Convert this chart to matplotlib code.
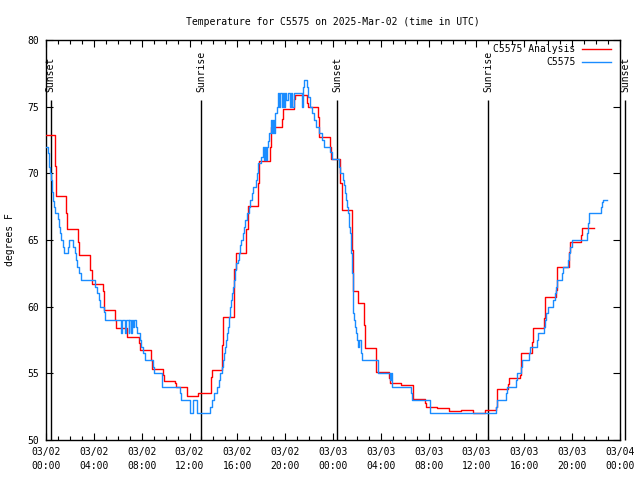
import matplotlib
matplotlib.use("Agg")
import matplotlib.pyplot as plt
from matplotlib.ticker import MultipleLocator

# ---- data (hours since 2025-03-02 00:00 UTC, degrees F) ----
analysis_t = [0.0, 0.72, 0.81, 1.70, 1.78, 2.70, 2.78, 3.71, 3.82, 4.74, 4.82, 5.74, 5.82,
              6.75, 7.75, 7.83, 8.75, 8.83, 9.76, 9.84, 10.76, 10.84, 11.78, 12.74,
              13.77, 13.85, 14.72, 14.83, 15.75, 15.85, 16.75, 16.86, 17.75, 17.84,
              18.76, 18.84, 19.76, 19.84, 20.77, 20.85, 21.80, 21.88, 22.77, 22.85,
              23.78, 23.86, 24.62, 24.73, 25.62, 25.70, 26.08, 26.60, 26.68, 27.62,
              28.66, 28.74, 29.69, 30.66, 31.67, 31.75, 32.67, 33.67, 34.70, 35.68,
              36.71, 37.60, 37.74, 38.66, 38.74, 39.66, 39.74, 40.67, 40.74, 41.67,
              41.75, 42.67, 42.75, 43.70, 43.78, 44.77, 44.84, 45.83]
analysis_v = [72.85, 70.55, 68.3, 67.05, 65.8, 64.88, 63.85, 62.75, 61.68, 61.2, 59.72, 59.0, 58.42,
              57.7, 57.25, 56.75, 56.0, 55.3, 54.88, 54.42, 54.25, 53.95, 53.3, 53.5,
              54.75, 55.25, 57.1, 59.2, 62.8, 64.0, 65.8, 67.55, 69.25, 70.9,
              72.0, 73.45, 74.1, 74.8, 75.6, 75.9, 75.25, 74.95, 74.25, 72.75,
              72.0, 71.05, 69.25, 67.25, 64.25, 61.2, 60.3, 58.6, 56.88, 55.13,
              54.63, 54.25, 54.1, 53.05, 52.8, 52.45, 52.38, 52.2, 52.25, 52.05,
              52.25, 52.5, 53.8, 54.2, 54.63, 54.88, 56.5, 57.38, 58.42, 59.13,
              60.7, 61.25, 62.95, 64.13, 64.83, 65.38, 65.88, 65.88]

obs_t = [0.0, 0.17, 0.25, 0.33, 0.44, 0.50, 0.61, 0.70, 0.78, 1.00, 1.09, 1.20, 1.28, 1.39, 1.48,
         1.84, 1.95, 2.28, 2.40, 2.48, 2.59, 2.79, 2.95, 4.12, 4.24, 4.43, 4.52, 4.85, 4.96,
         6.25, 6.33, 6.60, 6.67, 6.90, 6.95, 7.10, 7.15, 7.30, 7.40, 7.50,
         7.64, 7.86, 7.97, 8.14, 8.30, 8.92, 9.03, 9.67, 11.20, 11.26, 12.04, 12.32, 12.65,
         13.71, 13.88, 14.08, 14.27, 14.44, 14.55, 14.72, 14.77, 14.86, 14.94, 15.03, 15.11,
         15.19, 15.28, 15.39, 15.47, 15.58, 15.66, 15.75, 15.83, 15.92, 16.03, 16.11, 16.22,
         16.31, 16.45, 16.56, 16.67, 16.78, 16.98, 17.09, 17.23, 17.34, 17.56, 17.65, 17.76,
         17.98, 18.12, 18.20, 18.28, 18.36, 18.45, 18.54, 18.65, 18.82, 18.90, 18.98, 19.06,
         19.15, 19.29, 19.43, 19.50, 19.60, 19.70, 19.80, 19.92, 20.00, 20.10, 20.20, 20.40,
         20.50, 20.60, 20.70, 21.44, 21.50, 21.58, 21.83, 21.94, 22.10, 22.27, 22.41, 22.60,
         22.86, 23.08, 23.28, 23.75, 23.94, 24.50, 24.59, 24.81, 24.92, 25.00, 25.09, 25.17,
         25.23, 25.31, 25.37, 25.42, 25.48, 25.53, 25.59, 25.65, 25.70, 25.78, 25.87, 25.95,
         26.03, 26.12, 26.20, 26.30, 26.37, 26.45, 27.76, 28.77, 28.85, 28.93, 30.52, 30.58,
         32.11, 37.63, 37.69, 38.47, 38.53, 39.30, 39.39, 39.75, 39.83, 40.42, 40.50, 41.03,
         41.17, 41.67, 41.76, 41.84, 41.95, 42.43, 42.54, 42.67, 42.76, 43.12, 43.21, 43.68,
         43.74, 43.85, 43.99, 45.24, 45.30, 45.38, 46.41, 46.50, 46.61, 46.89]
obs_v = [72.0, 71.5, 70.5, 70.0, 69.5, 68.6, 67.9, 67.45, 67.0, 66.6, 66.0, 65.5, 65.0, 64.5, 64.0,
         64.5, 65.0, 64.5, 64.0, 63.5, 63.0, 62.5, 62.0, 61.5, 61.0, 60.5, 60.0, 59.6, 59.0,
         58.0, 59.0, 58.0, 59.0, 58.0, 59.0, 58.0, 59.0, 58.5, 59.0, 58.5,
         58.0, 57.5, 57.0, 56.5, 56.0, 55.5, 55.0, 54.0, 53.5, 53.0, 52.0, 53.0, 52.0,
         52.5, 53.0, 53.5, 54.0, 54.5, 55.0, 55.5, 56.0, 56.5, 57.0, 57.5, 58.0,
         58.5, 59.25, 60.0, 60.5, 61.0, 61.5, 62.0, 62.75, 63.25, 63.5, 64.0, 64.6,
         65.0, 65.5, 66.0, 66.5, 67.0, 67.5, 68.0, 68.5, 69.0, 69.5, 70.0, 70.75,
         71.25, 72.0, 71.0, 72.0, 71.0, 72.0, 72.4, 73.0, 74.0, 73.0, 74.0, 73.0,
         74.5, 75.0, 76.0, 75.0, 76.0, 75.0, 76.0, 75.0, 76.0, 75.5, 76.0, 75.0,
         76.0, 75.0, 76.0, 75.0, 76.5, 77.0, 76.5, 75.75, 75.0, 74.5, 74.0, 73.5,
         73.0, 72.5, 72.0, 71.6, 71.05, 70.5, 70.0, 69.5, 69.1, 68.5, 68.0, 67.5,
         67.0, 66.5, 66.0, 65.5, 65.0, 64.0, 62.5, 61.0, 59.5, 59.0, 58.5, 58.0,
         57.5, 57.0, 57.5, 57.0, 56.5, 56.0, 55.0, 54.5, 55.0, 54.0, 53.5, 53.0,
         52.0, 52.5, 53.0, 53.5, 54.0, 54.5, 55.0, 55.5, 56.0, 56.5, 57.0, 57.5,
         58.0, 58.5, 59.0, 59.5, 60.0, 60.5, 61.0, 61.5, 62.0, 62.5, 63.0, 63.5,
         64.0, 64.5, 65.0, 65.5, 66.25, 67.0, 67.5, 67.85, 68.0, 68.0]

sun_t = [0.40, 13.0, 24.36, 36.99, 48.42]
sun_labels = ["Sunset", "Sunrise", "Sunset", "Sunrise", "Sunset"]

xtick_pos = [0, 4, 8, 12, 16, 20, 24, 28, 32, 36, 40, 44, 48]
xtick_labels = ["03/02\n00:00", "03/02\n04:00", "03/02\n08:00", "03/02\n12:00",
                "03/02\n16:00", "03/02\n20:00", "03/03\n00:00", "03/03\n04:00",
                "03/03\n08:00", "03/03\n12:00", "03/03\n16:00", "03/03\n20:00",
                "03/04\n00:00"]
ytick_pos = [50, 55, 60, 65, 70, 75, 80]

# ---- figure ----
plt.rcParams['font.family'] = ['DejaVu Sans Mono']
FS = 7
fig = plt.figure(figsize=(6.4, 4.8), dpi=100)
ax = fig.add_axes([46/640, 40/480, 574/640, 400/480])

ax.plot(analysis_t, analysis_v, drawstyle='steps-post', color='#ff0000', lw=1.0,
        label='C5575 Analysis', zorder=3)
ax.plot(obs_t, obs_v, drawstyle='steps-post', color='#1a8cff', lw=1.0,
        label='C5575', zorder=4)

for t, lab in zip(sun_t, sun_labels):
    ax.vlines(t, 50, 75.5, color='black', lw=1.0, clip_on=False, zorder=2)
    ax.text(t, 76.1, lab, rotation=90, ha='center', va='bottom', fontsize=FS,
            clip_on=False)

ax.set_xlim(0, 48)
ax.set_ylim(50, 80)
ax.set_xticks(xtick_pos)
ax.set_xticklabels(xtick_labels, fontsize=FS, linespacing=1.45)
ax.xaxis.set_minor_locator(MultipleLocator(1))
ax.set_yticks(ytick_pos)
ax.set_yticklabels([str(v) for v in ytick_pos], fontsize=FS)
ax.tick_params(axis='both', which='major', direction='in', length=5, width=0.8,
               top=True, right=True, pad=5)
ax.tick_params(axis='x', which='minor', direction='in', length=3, width=0.8,
               top=True)
for s in ax.spines.values():
    s.set_linewidth(1.0)

ax.set_ylabel('degrees F', fontsize=FS, labelpad=9)
ax.set_title('Temperature for C5575 on 2025-Mar-02 (time in UTC)', fontsize=FS, pad=11)

leg = ax.legend(loc='upper right', bbox_to_anchor=(0.985, 0.99), borderaxespad=0,
                frameon=False, markerfirst=False, fontsize=FS, handlelength=3.0,
                handletextpad=0.7, labelspacing=0.35, borderpad=0)

fig.savefig('out.png', dpi=100)
